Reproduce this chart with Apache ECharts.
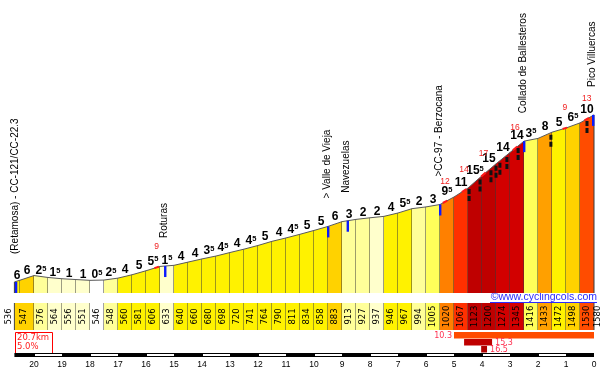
<!DOCTYPE html>
<html>
<head>
<meta charset="utf-8">
<title>Pico Villuercas</title>
<script src="https://cdn.jsdelivr.net/npm/echarts@6.0.0/dist/echarts.min.js"></script>
<style>
html,body{margin:0;padding:0;background:#ffffff;}
#chart{width:609px;height:370px;}
</style>
</head>
<body>
<div id="chart"></div>
<script>
// ---------------- data ----------------
const kmPoints = [20.7, 20.5, 20.0, 19.5, 19.0, 18.5, 18.0, 17.5, 17.0, 16.5, 16.0, 15.5, 15.0, 14.5, 14.0, 13.5, 13.0, 12.5, 12.0, 11.5, 11.0, 10.5, 10.0, 9.5, 9.0, 8.5, 8.0, 7.5, 7.0, 6.5, 6.0, 5.5, 5.0, 4.5, 4.0, 3.5, 3.0, 2.5, 2.0, 1.5, 1.0, 0.5, 0.0];
const altitudes = [536, 547, 576, 564, 556, 551, 546, 548, 560, 581, 606, 633, 640, 660, 680, 698, 720, 741, 764, 790, 811, 834, 858, 883, 913, 927, 937, 946, 967, 994, 1005, 1020, 1067, 1123, 1200, 1274, 1345, 1416, 1433, 1472, 1498, 1530, 1580];
const gradeLabels = [6, 6, 2.5, 1.5, 1, 1, 0.5, 2.5, 4, 5, 5.5, 1.5, 4, 4, 3.5, 4.5, 4, 4.5, 5, 4, 4.5, 5, 5, 6, 3, 2, 2, 4, 5.5, 2, 3, 9.5, 11, 15.5, 15, 14, 14, 3.5, 8, 5, 6.5, 10];
const maxGradeKm = [15.62, 5.32, 4.64, 3.95, 2.82, 1.04, 0.26];
const maxGradeValues = [9, 12, 14, 17, 16, 9, 13];
const placeNames = ['(Retamosa) - CC-121/CC-22.3', 'Roturas', '> Valle de Vieja', 'Navezuelas', '>CC-97 - Berzocana', 'Collado de Ballesteros', 'Pico Villuercas'];
const placeKm = [20.7, 15.32, 9.5, 8.8, 5.5, 2.5, 0.0];
const climbFromKm = [5.0, 4.64, 4.03];
const climbToKm = [0.0, 3.64, 3.82];
const climbGrades = [10.3, 15.3, 16.5];
const hairpinKm = [4.46, 4.07, 3.68, 3.5, 3.36, 3.11, 2.71, 1.54, 0.25];
const kmTicks = [20, 19, 18, 17, 16, 15, 14, 13, 12, 11, 10, 9, 8, 7, 6, 5, 4, 3, 2, 1, 0];
const totalLengthKm = 20.7;
const averageGrade = 5.0;
const siteCredit = '©www.cyclingcols.com';

// ---------------- helpers ----------------
const Y_MIN = 467, Y_MAX = 2298;
const KM_MAX = kmPoints[0];

function gradeColor(g) {
  const a = Math.abs(g);
  if (a < 0.75) return '#ffffff';
  if (a < 2) return '#ffffcc';
  if (a < 3) return '#ffff99';
  if (a < 3.5) return '#ffff5a';
  if (a < 5.75) return '#fff200';
  if (a < 7) return '#ffd200';
  if (a < 9) return '#ffa000';
  if (a < 10) return '#ff8000';
  if (a < 11) return '#ff4c00';
  if (a < 13) return '#ff3000';
  if (a < 14.5) return '#d20000';
  if (a < 16) return '#bf0000';
  return '#b00000';
}
function segGrade(i) {
  return (altitudes[i + 1] - altitudes[i]) / ((kmPoints[i] - kmPoints[i + 1]) * 10);
}
function altAt(km) {
  for (let i = 0; i < kmPoints.length - 1; i++) {
    if (km <= kmPoints[i] + 1e-9 && km >= kmPoints[i + 1] - 1e-9) {
      const t = (kmPoints[i] - km) / (kmPoints[i] - kmPoints[i + 1]);
      return altitudes[i] + t * (altitudes[i + 1] - altitudes[i]);
    }
  }
  return altitudes[altitudes.length - 1];
}
function fmtGrade(v) {
  const whole = Math.floor(v);
  return (v - whole) > 0.01 ? '{n|' + whole + '}{s|5}' : '{n|' + whole + '}';
}
const RICH = {
  n: { fontFamily: 'Liberation Sans', fontWeight: 'bold', fontSize: 12, fill: '#000', lineHeight: 12 },
  s: { fontFamily: 'Liberation Sans', fontWeight: 'bold', fontSize: 7.5, fill: '#000', lineHeight: 8, verticalAlign: 'top' }
};

const segData = altitudes.slice(0, -1).map((a, i) => [kmPoints[i], kmPoints[i + 1], a, altitudes[i + 1], gradeLabels[i]]);

const chart = echarts.init(document.getElementById('chart'), null, { renderer: 'canvas' });

const option = {
  animation: false,
  backgroundColor: '#ffffff',
  grid: [
    { left: 14.4, right: 15, top: 0, height: 293, outerBoundsMode: 'none' },
    { left: 14.4, right: 15, top: 353, height: 4, outerBoundsMode: 'none' }
  ],
  xAxis: [
    { gridIndex: 0, type: 'value', min: 0, max: KM_MAX, inverse: true, show: false },
    {
      gridIndex: 1, type: 'value', min: 0, max: KM_MAX, inverse: true, interval: 1,
      axisLine: { show: false }, axisTick: { show: false }, splitLine: { show: false },
      axisLabel: {
        show: true, margin: 3, color: '#000', fontFamily: 'Liberation Sans', fontSize: 8.5,
        formatter: v => (kmTicks.indexOf(Math.round(v * 10) / 10) >= 0 ? String(v) : '')
      }
    }
  ],
  yAxis: [
    { gridIndex: 0, type: 'value', min: Y_MIN, max: Y_MAX, show: false },
    { gridIndex: 1, type: 'value', min: 0, max: 1, show: false }
  ],
  series: [
    // coloured profile segments
    {
      type: 'custom', xAxisIndex: 0, yAxisIndex: 0, z: 1, silent: true, data: segData,
      renderItem: (params, api) => {
        const k0 = api.value(0), k1 = api.value(1), a0 = api.value(2), a1 = api.value(3);
        const t0 = api.coord([k0, a0]), t1 = api.coord([k1, a1]);
        const b0 = api.coord([k0, Y_MIN]), b1 = api.coord([k1, Y_MIN]);
        const g = (a1 - a0) / ((k0 - k1) * 10);
        const children = [
          { type: 'polygon', shape: { points: [b0, t0, t1, b1] }, style: { fill: gradeColor(g) } },
          { type: 'line', shape: { x1: t1[0], y1: t1[1], x2: b1[0], y2: b1[1] }, style: { stroke: '#3a3a3a', lineWidth: 1 } }
        ];
        if (params.dataIndex === 0) {
          children.push({ type: 'line', shape: { x1: t0[0], y1: t0[1], x2: b0[0], y2: b0[1] }, style: { stroke: '#3a3a3a', lineWidth: 1 } });
        }
        return { type: 'group', children };
      }
    },
    // profile outline
    {
      type: 'line', xAxisIndex: 0, yAxisIndex: 0, z: 2, silent: true, symbol: 'none',
      data: kmPoints.map((k, i) => [k, altitudes[i]]),
      lineStyle: { color: '#5a5a5a', width: 1 }
    },
    // steepest 100 m highlights along the top
    {
      type: 'custom', xAxisIndex: 0, yAxisIndex: 0, z: 3, silent: true,
      data: maxGradeKm.map(k => [Math.min(k + 0.08, KM_MAX), Math.max(k - 0.08, 0)]),
      renderItem: (params, api) => {
        const k0 = api.value(0), k1 = api.value(1);
        const p0 = api.coord([k0, altAt(k0)]), p1 = api.coord([k1, altAt(k1)]);
        return { type: 'line', shape: { x1: p0[0], y1: p0[1], x2: p1[0], y2: p1[1] }, style: { stroke: '#ff1a1a', lineWidth: 2 } };
      }
    },
    // hairpin marks
    {
      type: 'custom', xAxisIndex: 0, yAxisIndex: 0, z: 3, silent: true,
      data: hairpinKm.map(k => [k, altAt(k)]),
      renderItem: (params, api) => {
        const p = api.coord([api.value(0), api.value(1)]);
        return { type: 'line', shape: { x1: p[0], y1: p[1] + 2, x2: p[0], y2: p[1] + 15 }, style: { stroke: '#111', lineWidth: 3, lineDash: [5, 2] } };
      }
    },
    // grade labels
    {
      type: 'custom', xAxisIndex: 0, yAxisIndex: 0, z: 4, silent: true, data: segData,
      renderItem: (params, api) => {
        const t0 = api.coord([api.value(0), api.value(2)]), t1 = api.coord([api.value(1), api.value(3)]);
        const top = Math.min(t0[1], t1[1]);
        return { type: 'text', x: (t0[0] + t1[0]) / 2, y: top - 5,
          style: { text: fmtGrade(api.value(4)), rich: RICH, align: 'center', verticalAlign: 'middle' } };
      }
    },
    // max gradient (red) labels
    {
      type: 'custom', xAxisIndex: 0, yAxisIndex: 0, z: 4, silent: true,
      data: maxGradeKm.map((k, i) => [k, altAt(k), maxGradeValues[i]]),
      renderItem: (params, api) => {
        const p = api.coord([api.value(0), api.value(1)]);
        return { type: 'text', x: p[0], y: p[1] - 20.5,
          style: { text: String(api.value(2)), fill: '#f02020', font: '8.5px "Liberation Sans"', align: 'center', verticalAlign: 'middle' } };
      }
    },
    // places: blue markers + rotated names
    {
      type: 'custom', xAxisIndex: 0, yAxisIndex: 0, z: 5, silent: true,
      data: placeKm.map(k => [k, altAt(k)]),
      renderItem: (params, api) => {
        const p = api.coord([api.value(0), api.value(1)]);
        const left = api.coord([KM_MAX, Y_MIN])[0], right = api.coord([0, Y_MIN])[0];
        const mx = Math.min(Math.max(p[0], left + 1.5), right - 1);
        return { type: 'group', children: [
          { type: 'rect', shape: { x: mx - 1, y: p[1], width: 2.4, height: 11 }, style: { fill: '#0a1aff' } },
          { type: 'text', x: mx - 1, y: p[1] - 28, rotation: Math.PI / 2,
            style: { text: placeNames[params.dataIndex], fill: '#000', font: '10px "Liberation Sans"', align: 'left', verticalAlign: 'middle' } }
        ] };
      }
    },
    // altitude table
    {
      type: 'custom', xAxisIndex: 0, yAxisIndex: 0, z: 1, silent: true,
      data: altitudes.map((a, i) => [kmPoints[i], a]),
      renderItem: (params, api) => {
        const i = params.dataIndex;
        const last = altitudes.length - 1;
        const base = api.coord([api.value(0), Y_MIN]);
        const yTop = base[1] + 10, yBot = base[1] + 37, yMid = (yTop + yBot) / 2;
        const txt = (x) => ({ type: 'text', x, y: yMid, rotation: Math.PI / 2,
          style: { text: String(api.value(1)), fill: '#000', font: '8.5px "DejaVu Sans"', align: 'center', verticalAlign: 'middle' } });
        if (i === 0) return txt(base[0] - 5.5);
        if (i === last) return txt(base[0] + 3.5);
        const xa = api.coord([i === 1 ? kmPoints[0] : kmPoints[i], Y_MIN])[0];
        const xb = api.coord([kmPoints[i + 1], Y_MIN])[0];
        const children = [
          { type: 'rect', shape: { x: xa, y: yTop, width: xb - xa, height: yBot - yTop }, style: { fill: gradeColor(segGrade(i)) } },
          { type: 'line', shape: { x1: xb, y1: yTop, x2: xb, y2: yBot }, style: { stroke: '#444', lineWidth: 1 } }
        ];
        if (i === 1) children.push({ type: 'line', shape: { x1: xa, y1: yTop, x2: xa, y2: yBot }, style: { stroke: '#444', lineWidth: 1 } });
        children.push(txt((xa + xb) / 2));
        return { type: 'group', children };
      }
    },
    // steepest sections bars
    {
      type: 'custom', xAxisIndex: 0, yAxisIndex: 0, z: 2, silent: true,
      data: climbFromKm.map((f, i) => [f, climbToKm[i], climbGrades[i]]),
      renderItem: (params, api) => {
        const i = params.dataIndex;
        const a = api.coord([api.value(0), Y_MIN]), b = api.coord([api.value(1), Y_MIN]);
        const right = api.coord([0, Y_MIN])[0];
        const y = a[1] + 39 + i * 7;
        const onLeft = b[0] > right - 20;
        return { type: 'group', children: [
          { type: 'rect', shape: { x: a[0], y: y, width: b[0] - a[0], height: 6.5 }, style: { fill: gradeColor(api.value(2)) } },
          { type: 'text', x: onLeft ? a[0] - 2 : b[0] + 3, y: y + 3.5,
            style: { text: api.value(2).toFixed(1), fill: '#ff3050', font: '8px "DejaVu Sans"', align: onLeft ? 'right' : 'left', verticalAlign: 'middle' } }
        ] };
      }
    },
    // km scale bar
    {
      type: 'custom', xAxisIndex: 1, yAxisIndex: 1, z: 2, silent: true,
      data: [[KM_MAX, 0]].concat(kmTicks.slice(0, -1).map((k, i) => [k, kmTicks[i + 1]])),
      renderItem: (params, api) => {
        const i = params.dataIndex;
        if (i === 0) {
          const a = api.coord([KM_MAX, 1]), b = api.coord([0, 0]);
          return { type: 'rect', shape: { x: a[0], y: a[1], width: b[0] - a[0], height: b[1] - a[1] }, style: { fill: '#000' } };
        }
        if (kmTicks[i - 1] % 2 !== 0) return null;
        const a = api.coord([api.value(0), 1]), b = api.coord([api.value(1), 0]);
        return { type: 'rect', shape: { x: a[0] + 1, y: a[1] + 1, width: b[0] - a[0] - 1, height: b[1] - a[1] - 2 }, style: { fill: '#fff' } };
      }
    }
  ],
  graphic: [
    { type: 'rect', left: 15, top: 332, shape: { width: 37, height: 21 }, style: { fill: '#fff', stroke: '#ff0000', lineWidth: 1 } },
    { type: 'text', left: 17, top: 333, style: { text: totalLengthKm.toFixed(1) + 'km', fill: '#ff2020', font: '8.5px "DejaVu Sans"' } },
    { type: 'text', left: 17, top: 342, style: { text: averageGrade.toFixed(1) + '%', fill: '#ff2020', font: '8.5px "DejaVu Sans"' } },
    { type: 'text', right: 12, top: 292, style: { text: siteCredit, fill: '#2a2aff', font: '10.5px "Liberation Sans"' } },
    { type: 'line', shape: { x1: 490, y1: 302.5, x2: 597, y2: 302.5 }, style: { stroke: '#2a2aff', lineWidth: 1 } }
  ]
};
chart.setOption(option);
</script>
</body>
</html>
